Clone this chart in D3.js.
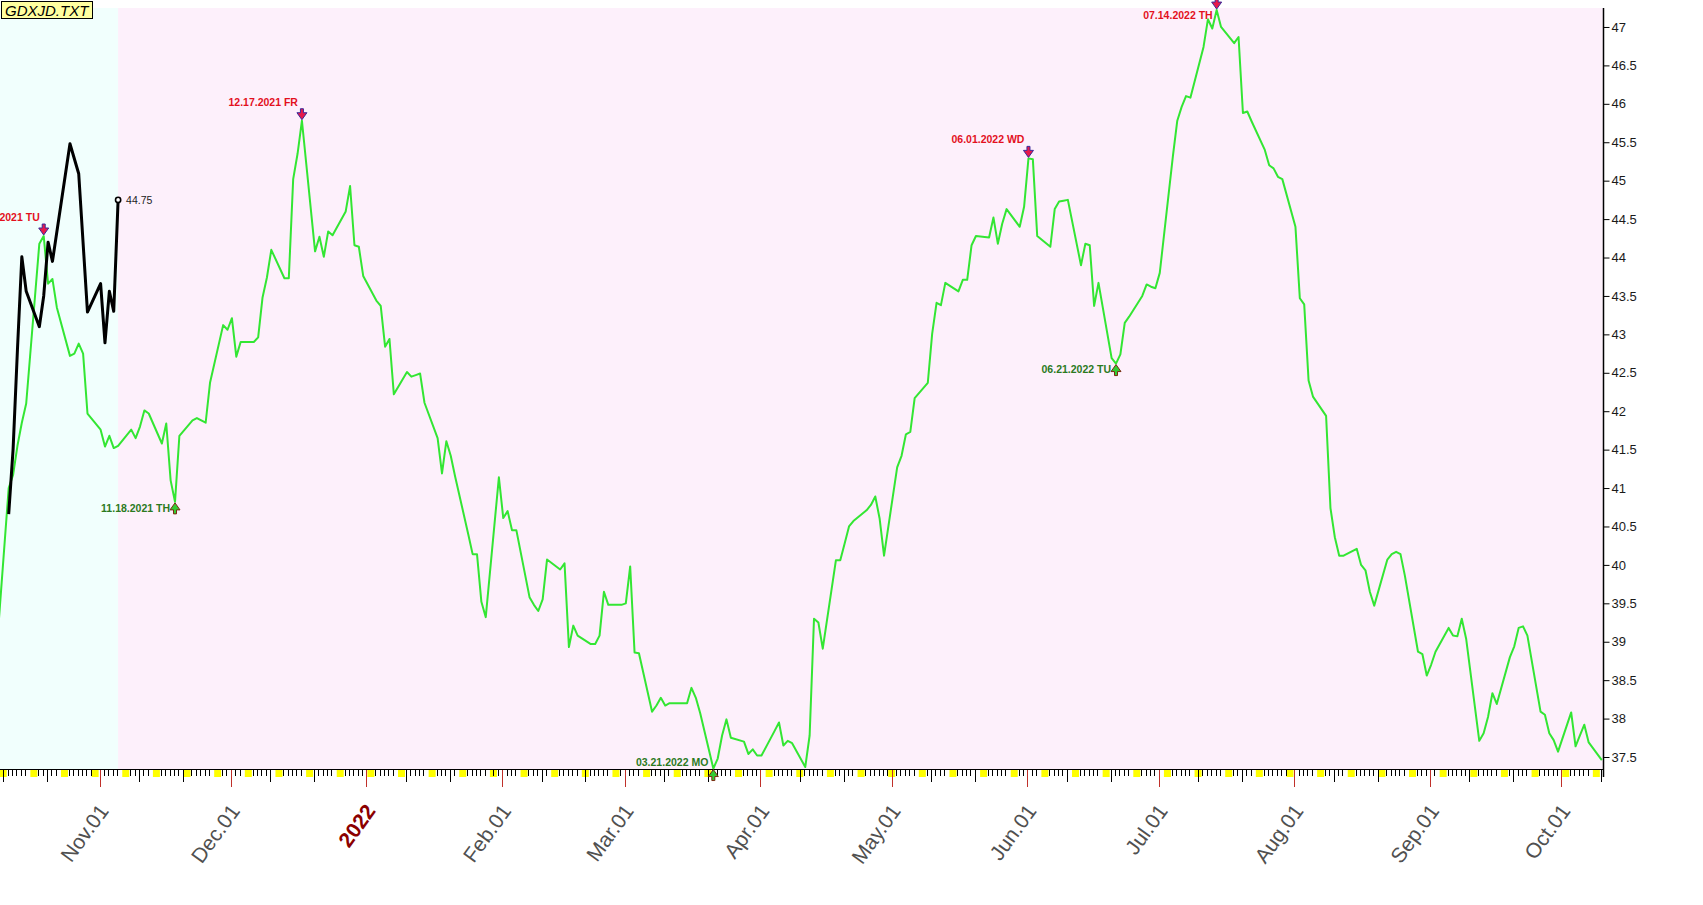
<!DOCTYPE html>
<html>
<head>
<meta charset="utf-8">
<title>GDXJD.TXT</title>
<script src="https://cdn.jsdelivr.net/npm/d3@7"></script>
<style>
    body { margin: 0; background: #fff; }
    #chart-area { width: 1703px; height: 905px; }
    text { font-family: Arial, "Liberation Sans", sans-serif; }
</style>
</head>
<body>
<div id="chart-area"></div>
<script>

// daily closes of the green series, one value per weekday, month by month
const oct21 = [38.7, 41.0, 41.17, 41.55, 41.85, 42.1, 44.18, 44.28, 43.66, 43.72, 43.35, 42.72, 42.75, 42.88, 42.75, 41.97];
const nov21 = [41.76, 41.54, 41.68, 41.52, 41.55, 41.76, 41.65, 41.80, 42.01, 41.97, 41.58, 41.84, 41.10, 40.82, 41.68, 41.88, 41.91, 41.88, 41.85, 42.37, 43.12, 43.06];
const dec21 = [43.21, 42.71, 42.90, 42.90, 42.96, 43.48, 43.74, 44.10, 43.73, 43.73, 45.02, 45.35, 45.78, 44.08, 44.27, 44.01, 44.34, 44.29, 44.60, 44.93, 44.16, 44.14, 43.76];
const jan22 = [43.44, 43.37, 42.84, 42.94, 42.22, 42.51, 42.45, 42.47, 42.49, 42.11, 41.65, 41.19, 41.61, 41.42, 41.15, 40.40, 40.14, 40.14, 39.52, 39.32, 41.14];
const feb22 = [40.61, 40.70, 40.45, 40.45, 39.58, 39.48, 39.40, 39.55, 40.07, 39.94, 40.02, 38.93, 39.21, 39.08, 38.97, 38.97, 39.08, 39.65, 39.48, 39.48];
const mar22 = [39.50, 39.98, 38.86, 38.85, 38.09, 38.17, 38.27, 38.17, 38.20, 38.20, 38.20, 38.40, 38.27, 38.07, 37.35, 37.48, 37.78, 37.99, 37.75, 37.70, 37.54, 37.60, 37.52];
const apr22 = [37.52, 37.84, 37.95, 37.65, 37.71, 37.68, 37.37, 37.78, 39.30, 39.25, 38.91, 40.06, 40.06, 40.28, 40.50, 40.57, 40.71, 40.78, 40.89, 40.60, 40.12];
const may22 = [41.27, 41.42, 41.70, 41.73, 42.17, 42.37, 43.01, 43.41, 43.38, 43.67, 43.56, 43.71, 43.71, 44.16, 44.28, 44.26, 44.52, 44.18, 44.44, 44.63, 44.40, 44.66];
const jun22 = [45.29, 45.28, 44.28, 44.14, 44.63, 44.73, 44.74, 44.75, 43.90, 44.18, 44.16, 43.37, 43.67, 42.69, 42.62, 42.74, 43.15, 43.23, 43.50, 43.65, 43.62, 43.60];
const jul22 = [43.80, 45.32, 45.78, 45.96, 46.10, 46.08, 46.74, 47.10, 46.98, 47.22, 47.00, 46.79, 46.87, 45.88, 45.90, 45.77, 45.40, 45.20, 45.16, 45.05, 45.02];
const aug22 = [44.40, 43.47, 43.39, 42.40, 42.19, 41.94, 40.74, 40.36, 40.12, 40.12, 40.21, 40.00, 39.93, 39.65, 39.47, 40.07, 40.14, 40.17, 40.14, 39.86, 38.87, 38.84, 38.56];
const sep22 = [38.70, 38.87, 39.18, 39.08, 39.07, 39.30, 39.04, 37.71, 37.81, 38.02, 38.33, 38.19, 38.80, 38.94, 39.18, 39.20, 39.08, 38.09, 38.05, 37.81, 37.72, 37.57];
const oct22 = [38.08, 37.64, 37.78, 37.92, 37.69, 37.46];

// first weekday of each block above
const monthStarts = ["2021-10-08", "2021-11-01", "2021-12-01", "2022-01-03", "2022-02-01", "2022-03-01",
    "2022-04-01", "2022-05-02", "2022-06-01", "2022-07-01", "2022-08-01", "2022-09-01", "2022-10-03"];
const monthValues = [oct21, nov21, dec21, jan22, feb22, mar22, apr22, may22, jun22, jul22, aug22, sep22, oct22];

// black series
const blackDates = ["2021-10-11", "2021-10-12", "2021-10-13", "2021-10-14", "2021-10-15", "2021-10-18", "2021-10-19",
    "2021-10-20", "2021-10-21", "2021-10-25", "2021-10-27", "2021-10-29", "2021-11-01", "2021-11-02",
    "2021-11-03", "2021-11-04", "2021-11-05"];
const blackValues = [40.66, 41.5, 42.8, 44.01, 43.56, 43.10, 43.50, 44.20, 43.95, 45.48, 45.09, 43.29, 43.66, 42.89, 43.56, 43.30, 44.75];

// turning points
const turnDates = ["2021-10-19", "2021-11-18", "2021-12-17", "2022-03-21", "2022-06-01", "2022-06-21", "2022-07-14"];
const turnLabels = ["10.19.2021 TU", "11.18.2021 TH", "12.17.2021 FR", "03.21.2022 MO", "06.01.2022 WD", "06.21.2022 TU", "07.14.2022 TH"];
const turnKinds = ["top", "bottom", "top", "bottom", "top", "bottom", "top"];

// axes
const monthTicks = ["2021-11-01", "2021-12-01", "2022-01-01", "2022-02-01", "2022-03-01", "2022-04-01",
    "2022-05-01", "2022-06-01", "2022-07-01", "2022-08-01", "2022-09-01", "2022-10-01"];
const monthLabels = ["Nov.01", "Dec.01", "2022", "Feb.01", "Mar.01", "Apr.01", "May.01", "Jun.01", "Jul.01", "Aug.01", "Sep.01", "Oct.01"];
const priceTicks = [37.5, 38, 38.5, 39, 39.5, 40, 40.5, 41, 41.5, 42, 42.5, 43, 43.5, 44, 44.5, 45, 45.5, 46, 46.5, 47];


class PriceChart {

    constructor(parentElement) {
        this.parentElement = parentElement;
        this.parseDate = d3.timeParse("%Y-%m-%d");
        this.initVis();
    }

    initVis() {
        let vis = this;

        vis.width = 1703;
        vis.height = 905;
        vis.plot = {left: 0, right: 1603, top: 8, bottom: 769};

        vis.svg = d3.select("#" + vis.parentElement).append("svg")
            .attr("width", vis.width)
            .attr("height", vis.height)
            .style("background", "#fff");

        vis.x = d3.scaleTime()
            .domain([new Date(2021, 9, 9, 6, 20), new Date(2022, 9, 10, 12, 30)])
            .range([vis.plot.left, vis.plot.right]);

        vis.y = d3.scaleLinear()
            .domain([37.344, 47.247])
            .range([vis.plot.bottom, vis.plot.top]);

        vis.svg.append("defs").append("clipPath")
            .attr("id", "plot-clip")
            .append("rect")
            .attr("x", vis.plot.left)
            .attr("y", vis.plot.top - 4)
            .attr("width", vis.plot.right - vis.plot.left)
            .attr("height", vis.plot.bottom - vis.plot.top + 4);

        vis.wrangleData();
    }

    wrangleData() {
        let vis = this;

        // points are drawn a few hours into the session
        let shift = d => d3.timeHour.offset(d, 6);

        vis.green = [];
        monthStarts.forEach((s, i) => {
            let start = vis.parseDate(s);
            let days = d3.timeDay.range(start, d3.timeMonth.offset(d3.timeMonth.floor(start), 1))
                .filter(d => d.getDay() !== 0 && d.getDay() !== 6);
            monthValues[i].forEach((v, j) => vis.green.push({date: shift(days[j]), value: v}));
        });

        vis.black = blackDates.map((d, i) => ({date: shift(vis.parseDate(d)), value: blackValues[i]}));

        vis.turns = turnDates.map((d, i) => {
            let t = shift(vis.parseDate(d)).getTime();
            let p = vis.green.find(g => g.date.getTime() === t);
            return {date: p.date, value: p.value, label: turnLabels[i], kind: turnKinds[i]};
        });

        vis.updateVis();
    }

    updateVis() {
        let vis = this;
        let x = vis.x, y = vis.y, P = vis.plot;
        let lastBlack = vis.black[vis.black.length - 1];

        // background panels
        vis.svg.append("rect")
            .attr("x", P.left).attr("y", P.top)
            .attr("width", x(lastBlack.date) - P.left)
            .attr("height", P.bottom - P.top)
            .attr("fill", "#f1fffd");
        vis.svg.append("rect")
            .attr("x", x(lastBlack.date)).attr("y", P.top)
            .attr("width", P.right - x(lastBlack.date))
            .attr("height", P.bottom - P.top)
            .attr("fill", "#fdf0fb");

        // date axis: one tick per day
        let days = d3.timeDay.range(x.domain()[0], x.domain()[1]);
        let axisG = vis.svg.append("g").attr("class", "date-axis");

        axisG.selectAll(".weekend")
            .data(days.filter(d => d.getDay() === 0))
            .enter().append("rect")
            .attr("x", d => x(d) - 3.5)
            .attr("y", P.bottom + 1)
            .attr("width", 7)
            .attr("height", 7)
            .attr("fill", "#ffff00");

        axisG.selectAll(".day-tick")
            .data(days.filter(d => d.getDay() !== 0 && d.getDay() !== 6 || d.getDate() === 1 || d.getDate() % 10 === 0))
            .enter().append("line")
            .attr("x1", d => Math.round(x(d)) + 0.5)
            .attr("x2", d => Math.round(x(d)) + 0.5)
            .attr("y1", P.bottom)
            .attr("y2", d => d.getDate() === 1 ? P.bottom + 18 : (d.getDate() === 10 || d.getDate() === 20) ? P.bottom + 13 : P.bottom + 7)
            .attr("stroke", d => d.getDate() === 1 ? "#c0302a" : "#000")
            .attr("stroke-width", 1);

        axisG.append("line")
            .attr("x1", P.left).attr("x2", P.right + 1)
            .attr("y1", P.bottom + 0.5).attr("y2", P.bottom + 0.5)
            .attr("stroke", "#000");

        axisG.selectAll(".month-label")
            .data(monthTicks)
            .enter().append("text")
            .attr("transform", d => `translate(${x(vis.parseDate(d)) + 10}, 811) rotate(-54)`)
            .attr("text-anchor", "end")
            .attr("font-size", "21px")
            .attr("font-weight", (d, i) => monthLabels[i] === "2022" ? "bold" : "normal")
            .attr("fill", (d, i) => monthLabels[i] === "2022" ? "#8b0000" : "#505050")
            .text((d, i) => monthLabels[i]);

        // price axis on the right
        let priceAxis = d3.axisRight(y)
            .tickValues(priceTicks)
            .tickSize(6)
            .tickPadding(2)
            .tickFormat(d3.format(""));

        let yG = vis.svg.append("g")
            .attr("transform", `translate(${P.right + 0.5}, 0)`)
            .call(priceAxis);
        yG.select(".domain").remove();
        yG.selectAll("text")
            .attr("font-size", "13px")
            .attr("font-family", "Arial, 'Liberation Sans', sans-serif")
            .attr("fill", "#1a1a1a");
        yG.append("line")
            .attr("x1", 0).attr("x2", 0)
            .attr("y1", P.top).attr("y2", P.bottom + 8)
            .attr("stroke", "#000")
            .attr("stroke-width", 1.5);

        // series
        let line = d3.line()
            .x(d => x(d.date))
            .y(d => y(d.value));

        let lines = vis.svg.append("g").attr("clip-path", "url(#plot-clip)");

        lines.append("path")
            .datum(vis.green)
            .attr("d", line)
            .attr("fill", "none")
            .attr("stroke", "#33e633")
            .attr("stroke-width", 2)
            .attr("stroke-linejoin", "round");

        lines.append("path")
            .datum(vis.black)
            .attr("d", line)
            .attr("fill", "none")
            .attr("stroke", "#000")
            .attr("stroke-width", 3)
            .attr("stroke-linejoin", "round");

        vis.svg.append("circle")
            .attr("cx", x(lastBlack.date))
            .attr("cy", y(lastBlack.value))
            .attr("r", 2.6)
            .attr("fill", "#fff")
            .attr("stroke", "#000")
            .attr("stroke-width", 1.6);

        vis.svg.append("text")
            .attr("x", x(lastBlack.date) + 8)
            .attr("y", y(lastBlack.value) + 4)
            .attr("font-size", "10.5px")
            .attr("fill", "#222")
            .text(d3.format(".2f")(lastBlack.value));

        // turning point markers and labels
        let turnG = vis.svg.append("g").attr("class", "turns");

        turnG.selectAll(".turn-label")
            .data(vis.turns)
            .enter().append("text")
            .attr("x", d => x(d.date) - (d.kind === "top" ? 4 : 5))
            .attr("y", d => d.kind === "top"
                ? Math.max(y(d.value) - 19, P.top + 7) + 3.8
                : Math.min(y(d.value) + 6, P.bottom - 7) + 3.8)
            .attr("text-anchor", "end")
            .attr("font-size", "10.5px")
            .attr("font-weight", "bold")
            .attr("fill", d => d.kind === "top" ? "#e3101e" : "#2b7a1e")
            .text(d => d.label);

        turnG.selectAll(".turn-mark")
            .data(vis.turns)
            .enter().append("path")
            .attr("transform", d => `translate(${x(d.date)}, ${y(d.value) + (d.kind === "top" ? -1 : 1)})`)
            .attr("d", d => d.kind === "top"
                ? "M-1.5,-11 L1.5,-11 L1.5,-7 L5,-7 L0,0 L-5,-7 L-1.5,-7 Z"
                : "M0,0 L5,7 L1.5,7 L1.5,11 L-1.5,11 L-1.5,7 L-5,7 Z")
            .attr("fill", d => d.kind === "top" ? "#e6194b" : "#33cc33")
            .attr("stroke", d => d.kind === "top" ? "#3a2a9a" : "#7a2a10")
            .attr("stroke-width", 1);

        // file name box
        vis.svg.append("rect")
            .attr("x", 1.5).attr("y", 1.5)
            .attr("width", 91).attr("height", 17)
            .attr("fill", "#ffffa0")
            .attr("stroke", "#000");
        vis.svg.append("text")
            .attr("x", 5).attr("y", 15.5)
            .attr("font-size", "15px")
            .attr("font-style", "italic")
            .attr("fill", "#000")
            .text("GDXJD.TXT");
    }
}

new PriceChart("chart-area");

</script>
</body>
</html>
